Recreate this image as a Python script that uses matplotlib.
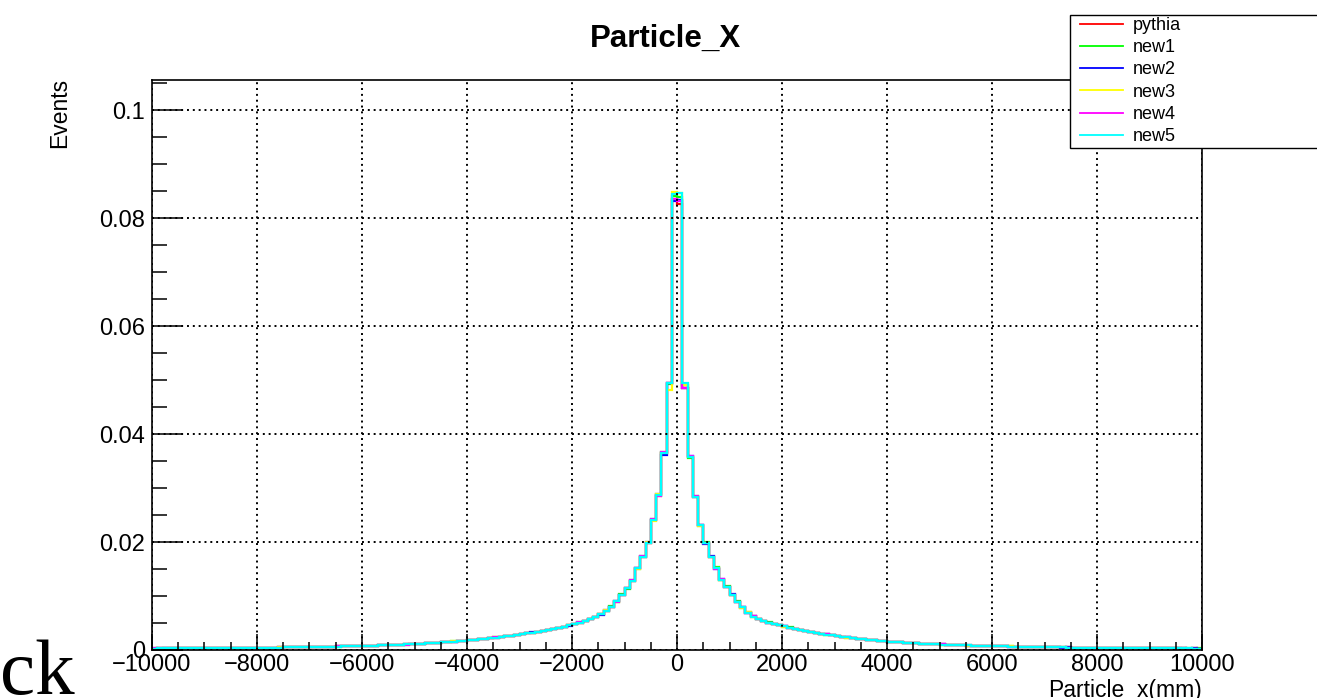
import numpy as np
import matplotlib.pyplot as plt
from matplotlib.patches import Rectangle

plt.rcParams['font.family'] = ['Liberation Sans', 'DejaVu Sans']

# 200 bins of 100 mm from -10000 to 10000; bin contents in units of 1e-4
edges = np.linspace(-10000, 10000, 201)

pythia = [
    2.7, 2.8, 2.8, 2.9, 3.0, 3.0, 3.1, 3.2, 3.2, 3.3,
    3.4, 3.4, 3.5, 3.6, 3.7, 3.7, 3.8, 3.9, 4.0, 4.1,
    4.2, 4.3, 4.4, 4.5, 4.7, 4.8, 4.9, 5.1, 5.2, 5.4,
    5.5, 5.7, 5.9, 6.1, 6.3, 6.5, 6.7, 6.9, 7.2, 7.4,
    7.7, 7.9, 8.2, 8.5, 8.8, 9.1, 9.5, 9.8, 10.2, 10.6,
    11.2, 11.7, 12.3, 12.9, 13.5, 14.2, 14.9, 15.7, 16.5, 17.4,
    18.3, 19.2, 20.1, 21.1, 22.1, 23.1, 24.2, 25.4, 26.6, 27.9,
    29.5, 30.9, 32.3, 33.8, 35.4, 37.1, 39.0, 41.0, 43.2, 45.6,
    48.0, 50.8, 53.8, 57.2, 61.0, 66.0, 73.0, 80.0, 90.0, 102.0,
    114, 128, 151, 173, 199, 241, 287, 364, 494, 835,
    826, 486, 358, 284, 231, 198, 173, 151, 130, 117,
    102.5, 88.6, 79.4, 68.8, 62.3, 56.7, 53.8, 50.2, 48.3, 45.5,
    43.8, 41.2, 39.5, 37.1, 35.6, 33.4, 32.1, 30.0, 28.9, 27.0,
    26.0, 24.3, 23.4, 21.8, 21.1, 19.7, 19.1, 17.8, 17.3, 16.1,
    15.6, 14.7, 14.2, 13.4, 13.0, 12.3, 12.0, 11.3, 11.0, 10.4,
    10.2, 9.6, 9.4, 8.9, 8.8, 8.3, 8.2, 7.7, 7.6, 7.2,
    7.1, 6.7, 6.7, 6.3, 6.3, 5.9, 5.9, 5.5, 5.6, 5.2,
    5.2, 4.9, 5.0, 4.6, 4.7, 4.4, 4.5, 4.2, 4.3, 4.0,
    4.1, 3.8, 3.9, 3.6, 3.7, 3.4, 3.6, 3.3, 3.4, 3.1,
    3.3, 3.0, 3.2, 2.9, 3.0, 2.8, 2.9, 2.7, 2.8, 2.6,
]
new1 = [
    2.8, 2.7, 2.9, 2.9, 2.9, 3.1, 3.1, 3.1, 3.3, 3.3,
    3.3, 3.5, 3.5, 3.5, 3.7, 3.8, 3.8, 3.9, 3.9, 4.1,
    4.2, 4.2, 4.4, 4.6, 4.6, 4.8, 5.0, 5.0, 5.2, 5.3,
    5.6, 5.7, 5.8, 6.1, 6.4, 6.4, 6.7, 7.0, 7.1, 7.4,
    7.6, 8.0, 8.2, 8.4, 8.8, 9.2, 9.4, 9.9, 10.1, 10.7,
    11.1, 11.8, 12.2, 13.0, 13.4, 14.3, 14.8, 15.8, 16.4, 17.5,
    18.2, 19.3, 20.0, 21.2, 22.0, 23.3, 24.0, 25.6, 26.4, 28.1,
    29.3, 31.2, 32.1, 34.0, 35.1, 37.4, 38.7, 41.3, 42.9, 45.9,
    47.6, 51.2, 53.4, 57.8, 60.5, 66.6, 72.4, 80.8, 89.2, 103.0,
    113, 129, 150, 174, 198, 243, 285, 366, 492, 840,
    838, 490, 355, 286, 229, 200, 172, 153, 129, 118,
    101, 90, 78, 70, 61.5, 57.5, 53.0, 51.0, 47.6, 46.2,
    43.2, 41.8, 39.0, 37.6, 35.1, 33.9, 31.6, 30.5, 28.4, 27.5,
    25.6, 24.7, 23.0, 22.2, 20.7, 20.1, 18.7, 18.2, 16.9, 16.5,
    15.3, 15.0, 13.9, 13.7, 12.8, 12.5, 11.8, 11.5, 10.8, 10.6,
    10.0, 9.8, 9.2, 9.1, 8.6, 8.5, 8.0, 7.9, 7.4, 7.4,
    6.9, 6.9, 6.5, 6.5, 6.1, 6.1, 5.7, 5.7, 5.4, 5.4,
    5.0, 5.1, 4.8, 4.8, 4.5, 4.6, 4.3, 4.4, 4.1, 4.2,
    3.9, 4.0, 3.7, 3.8, 3.5, 3.6, 3.4, 3.5, 3.2, 3.3,
    3.1, 3.2, 3.0, 3.1, 2.8, 3.0, 2.7, 2.9, 2.6, 2.8,
]
new2 = [
    2.6, 2.8, 2.9, 2.8, 3.0, 3.1, 3.0, 3.2, 3.3, 3.2,
    3.4, 3.5, 3.4, 3.6, 3.6, 3.8, 3.9, 3.8, 4.0, 4.2,
    4.1, 4.3, 4.5, 4.4, 4.7, 4.9, 4.8, 5.1, 5.3, 5.3,
    5.5, 5.8, 5.9, 6.0, 6.3, 6.6, 6.6, 6.9, 7.3, 7.3,
    7.8, 7.8, 8.3, 8.5, 8.7, 9.2, 9.4, 9.9, 10.3, 10.5,
    11.3, 11.6, 12.4, 12.8, 13.6, 14.1, 15.0, 15.6, 16.6, 17.3,
    18.4, 19.1, 20.3, 21.0, 22.3, 23.0, 24.4, 25.2, 26.8, 27.7,
    29.7, 30.7, 32.6, 33.5, 35.7, 36.8, 39.3, 40.7, 43.5, 45.3,
    48.4, 50.4, 54.2, 56.8, 61.5, 65.5, 73.5, 79.4, 90.6, 101.0,
    115, 127, 152, 172, 200, 240, 288, 362, 495, 832,
    834, 486, 359, 283, 232, 197, 174, 150, 131, 116,
    103, 88.5, 79.5, 68.5, 62.5, 56.5, 54.0, 50.0, 48.4, 45.4,
    44.0, 41.0, 39.6, 37.0, 35.7, 33.3, 32.2, 29.9, 29.0, 26.9,
    26.0, 24.3, 23.4, 21.8, 21.1, 19.7, 19.1, 17.8, 17.3, 16.1,
    15.7, 14.6, 14.3, 13.3, 13.1, 12.2, 12.0, 11.2, 11.0, 10.3,
    10.2, 9.6, 9.4, 8.9, 8.8, 8.3, 8.2, 7.7, 7.6, 7.2,
    7.1, 6.7, 6.7, 6.3, 6.3, 5.9, 5.9, 5.5, 5.6, 5.2,
    5.2, 4.9, 5.0, 4.6, 4.7, 4.4, 4.5, 4.2, 4.3, 4.0,
    4.1, 3.8, 3.9, 3.6, 3.7, 3.4, 3.6, 3.3, 3.4, 3.1,
    3.3, 3.0, 3.2, 2.9, 3.0, 2.8, 2.9, 2.7, 2.8, 2.6,
]
new3 = [
    2.7, 2.9, 2.7, 3.0, 3.0, 2.9, 3.2, 3.2, 3.1, 3.4,
    3.4, 3.3, 3.6, 3.6, 3.8, 3.6, 3.8, 4.0, 4.0, 4.0,
    4.3, 4.3, 4.3, 4.5, 4.8, 4.7, 4.9, 5.2, 5.1, 5.4,
    5.4, 5.7, 6.0, 6.2, 6.2, 6.5, 6.8, 6.8, 7.2, 7.5,
    7.7, 7.9, 8.1, 8.6, 8.9, 9.0, 9.6, 9.7, 10.3, 10.6,
    11.2, 11.6, 12.3, 13.0, 13.5, 14.1, 14.9, 15.8, 16.5, 17.3,
    18.3, 19.3, 20.2, 21.0, 22.2, 23.2, 24.1, 25.5, 26.5, 28.0,
    29.4, 31.0, 32.4, 33.7, 35.5, 37.0, 39.2, 40.8, 43.4, 45.4,
    48.2, 50.6, 54.0, 57.0, 61.2, 65.8, 73.2, 79.6, 89.6, 102.4,
    114, 128, 150, 172, 200, 239, 289, 365, 481, 848,
    846, 491, 357, 283, 230, 199, 172, 152, 130, 117,
    102.5, 89.5, 78.5, 69.5, 61.8, 57.2, 53.3, 50.7, 47.8, 46.0,
    43.4, 41.6, 39.1, 37.5, 35.2, 33.8, 31.7, 30.4, 28.5, 27.4,
    25.6, 24.6, 23.1, 22.1, 20.8, 20.0, 18.8, 18.1, 17.0, 16.4,
    15.4, 14.9, 14.0, 13.6, 12.8, 12.5, 11.8, 11.5, 10.8, 10.6,
    10.1, 9.6, 9.4, 8.9, 8.7, 8.3, 8.1, 7.7, 7.6, 7.2,
    7.0, 6.9, 6.5, 6.5, 6.2, 6.0, 5.8, 5.7, 5.4, 5.4,
    5.1, 5.0, 4.8, 4.8, 4.6, 4.5, 4.3, 4.3, 4.2, 4.1,
    4.0, 3.9, 3.8, 3.6, 3.6, 3.5, 3.4, 3.4, 3.3, 3.2,
    3.1, 3.1, 3.0, 3.0, 2.9, 2.8, 2.8, 2.7, 2.7, 2.6,
]
new4 = [
    2.8, 2.8, 2.9, 2.9, 3.1, 3.0, 3.1, 3.3, 3.2, 3.3,
    3.5, 3.4, 3.5, 3.7, 3.7, 3.7, 3.9, 3.9, 4.1, 4.1,
    4.2, 4.4, 4.4, 4.5, 4.6, 4.8, 5.0, 5.1, 5.2, 5.5,
    5.6, 5.6, 5.9, 6.2, 6.3, 6.5, 6.6, 7.0, 7.2, 7.4,
    7.8, 7.9, 8.3, 8.4, 8.8, 9.1, 9.6, 9.8, 10.1, 10.7,
    11.3, 11.7, 12.2, 12.9, 13.6, 14.2, 14.8, 15.7, 16.6, 17.4,
    18.2, 19.2, 20.2, 21.1, 22.0, 23.2, 24.3, 25.3, 26.7, 27.8,
    29.6, 30.8, 32.2, 33.9, 35.3, 37.2, 38.9, 41.1, 43.1, 45.7,
    47.8, 51.0, 53.6, 57.4, 60.8, 66.2, 72.8, 80.4, 89.8, 102.2,
    114, 129, 151, 174, 198, 243, 286, 366, 494, 836,
    832, 485, 360, 285, 231, 199, 173, 150, 131, 117,
    101.5, 89.2, 79.2, 69.3, 62.2, 56.8, 53.7, 50.3, 48.2, 45.6,
    43.7, 41.3, 39.4, 37.2, 35.5, 33.5, 32.0, 30.1, 28.8, 27.1,
    25.9, 24.4, 23.3, 21.9, 21.0, 19.8, 19.0, 17.9, 17.2, 16.2,
    15.6, 14.7, 14.2, 13.4, 13.0, 12.3, 11.9, 11.3, 10.9, 10.4,
    10.2, 9.7, 9.3, 9.0, 8.6, 8.4, 8.1, 7.8, 7.5, 7.2,
    7.1, 6.8, 6.5, 6.4, 6.2, 6.0, 5.8, 5.6, 5.4, 5.3,
    5.1, 4.9, 4.9, 4.7, 4.6, 4.5, 4.4, 4.2, 4.2, 4.1,
    3.9, 3.9, 3.8, 3.7, 3.5, 3.5, 3.5, 3.4, 3.3, 3.2,
    3.2, 3.1, 3.0, 3.0, 2.9, 2.9, 2.8, 2.7, 2.7, 2.7,
]
new5 = [
    2.7, 2.8, 2.8, 2.9, 2.9, 3.0, 3.1, 3.1, 3.2, 3.3,
    3.4, 3.4, 3.5, 3.6, 3.6, 3.7, 3.8, 3.9, 4.0, 4.0,
    4.1, 4.3, 4.4, 4.5, 4.6, 4.8, 4.9, 5.0, 5.2, 5.4,
    5.5, 5.7, 5.8, 6.1, 6.3, 6.4, 6.7, 6.9, 7.2, 7.4,
    7.7, 7.9, 8.2, 8.4, 8.8, 9.1, 9.5, 9.8, 10.2, 10.6,
    11.1, 11.7, 12.3, 12.8, 13.5, 14.2, 14.9, 15.7, 16.5, 17.4,
    18.3, 19.2, 20.1, 21.1, 22.1, 23.1, 24.2, 25.4, 26.6, 27.9,
    29.5, 30.9, 32.3, 33.8, 35.4, 37.1, 39.0, 41.0, 43.2, 45.6,
    48.0, 50.8, 53.8, 57.2, 61.0, 66.0, 73.0, 80.0, 90.0, 102.0,
    114, 128, 151, 173, 199, 241, 287, 364, 494, 845,
    847, 494, 358, 284, 231, 198, 173, 151, 130, 117,
    102, 89, 79, 69, 62, 57, 53.5, 50.5, 48.0, 45.8,
    43.6, 41.4, 39.3, 37.3, 35.4, 33.6, 31.9, 30.2, 28.7, 27.2,
    25.8, 24.5, 23.2, 22.0, 20.9, 19.9, 18.9, 18.0, 17.1, 16.3,
    15.5, 14.8, 14.1, 13.5, 12.9, 12.4, 11.9, 11.4, 10.9, 10.5,
    10.1, 9.7, 9.3, 9.0, 8.7, 8.4, 8.1, 7.8, 7.5, 7.3,
    7.0, 6.8, 6.6, 6.4, 6.2, 6.0, 5.8, 5.6, 5.5, 5.3,
    5.1, 5.0, 4.9, 4.7, 4.6, 4.5, 4.4, 4.3, 4.2, 4.1,
    4.0, 3.9, 3.8, 3.7, 3.6, 3.5, 3.5, 3.4, 3.3, 3.2,
    3.2, 3.1, 3.1, 3.0, 2.9, 2.9, 2.8, 2.8, 2.7, 2.7,
]

labels = ['pythia', 'new1', 'new2', 'new3', 'new4', 'new5']
colors = ['#ff0000', '#00ff00', '#0000ff', '#ffff00', '#ff00ff', '#00ffff']
series = [pythia, new1, new2, new3, new4, new5]

W, H = 1317, 698
fig = plt.figure(figsize=(W / 100, H / 100), dpi=100)
ax = fig.add_axes([152 / W, 48 / H, 1050 / W, 570 / H])

handles = []
for vals, c, lab in zip(series, colors, labels):
    ax.stairs(np.array(vals) * 1e-4, edges, color=c, lw=1.6, label=lab)
    handles.append(plt.Line2D([], [], color=c, lw=1.3))

ax.set_xlim(-10000, 10000)
ax.set_ylim(0, 0.10556)
ax.set_xticks(np.arange(-10000, 10001, 2000))
ax.set_xticks(np.arange(-10000, 10001, 500), minor=True)
ax.set_yticks([0, 0.02, 0.04, 0.06, 0.08, 0.1])
ax.set_yticklabels(['0', '0.02', '0.04', '0.06', '0.08', '0.1'])
ax.set_yticks(np.arange(0, 0.1051, 0.005), minor=True)

ax.tick_params(axis='x', which='major', direction='in', length=11.5, width=1.1,
               labelsize=17, pad=3)
ax.tick_params(axis='x', which='minor', direction='in', length=5.5, width=1.1)
ax.tick_params(axis='y', which='major', direction='in', length=22, width=1.1,
               labelsize=17, pad=5)
ax.tick_params(axis='y', which='minor', direction='in', length=11, width=1.1)
for s in ax.spines.values():
    s.set_linewidth(1.2)

ax.grid(True, which='major', color='black', lw=1.4, ls=(0, (1, 2)))
ax.set_axisbelow(False)

fig.text(665 / W, 1 - 39 / H, 'Particle_X', ha='center', va='center',
         fontsize=22.5, fontweight='bold')
fig.text(60 / W, 1 - 78 / H, 'Events', rotation=90, ha='center', va='top',
         fontsize=16.5)
fig.text(1202 / W, 0.002, 'Particle_x(mm)', ha='right', va='baseline',
         fontsize=16.5)
fig.text(0.0, 4 / H, 'ck', ha='left', va='baseline', fontsize=57,
         family=['Liberation Serif', 'DejaVu Serif'])

# ROOT-style legend box, running off the right edge
box = Rectangle((1070 / W, 1 - 148 / H), 0.3, 133 / H, transform=fig.transFigure,
                facecolor='white', edgecolor='black', lw=1.0, zorder=5)
fig.add_artist(box)
leg = fig.legend(handles, labels, loc='upper left',
                 bbox_to_anchor=(1080 / W, 1 - 17 / H), frameon=False,
                 fontsize=13, handlelength=2.4, handletextpad=0.5,
                 labelspacing=0.29, borderpad=0, borderaxespad=0)
leg.set_zorder(6)

fig.savefig('out.png', dpi=100)
